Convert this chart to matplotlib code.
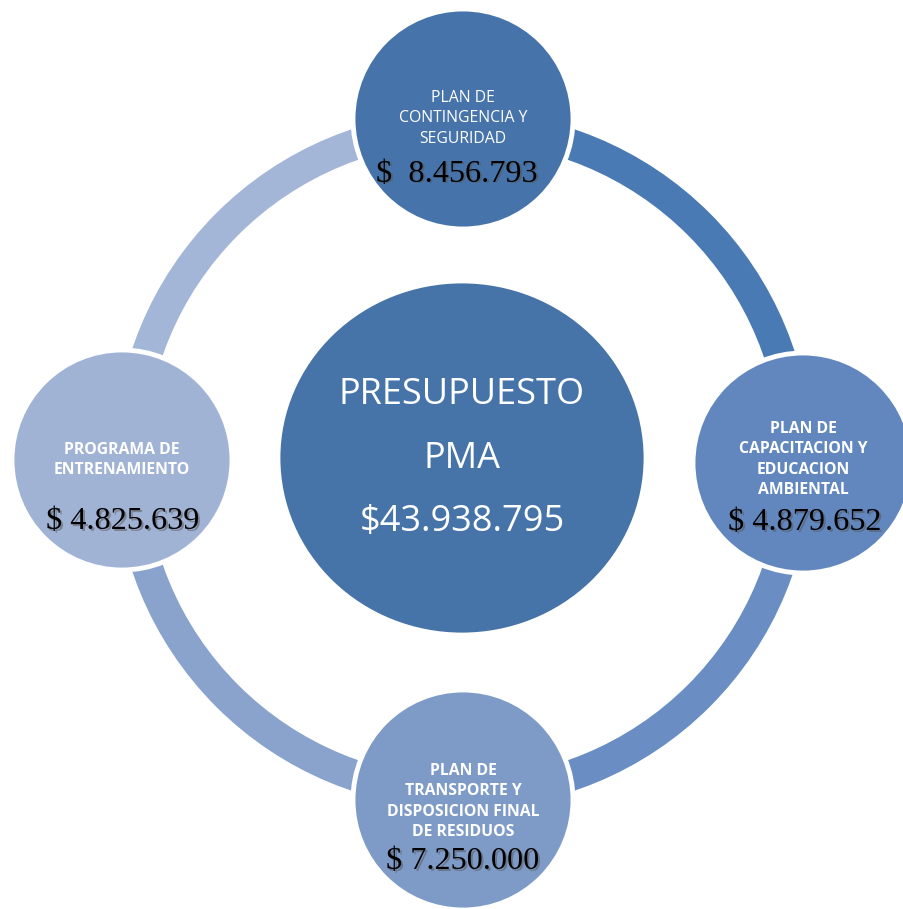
"""
Cycle diagram: PMA budget split in four programs around a central total.
"""
import matplotlib
matplotlib.use("Agg")
from matplotlib import pyplot as plt
from matplotlib.patches import Circle, Ellipse, Wedge

# Data
TOTAL_TITLE = ["PRESUPUESTO", "PMA"]
TOTAL_VALUE = "$43.938.795"
LABELS = [
    ["PLAN DE", "CONTINGENCIA Y", "SEGURIDAD"],
    ["PLAN DE", "CAPACITACION Y", "EDUCACION", "AMBIENTAL"],
    ["PLAN DE", "TRANSPORTE Y", "DISPOSICION FINAL", "DE RESIDUOS"],
    ["PROGRAMA DE", "ENTRENAMIENTO"],
]
VALUES = ["$  8.456.793", "$ 4.879.652", "$ 7.250.000", "$ 4.825.639"]

# Styles
W, H = 904, 909
RING_CENTER = (463, 460)
RING_RADIUS = 349          # outer radius of ring band
RING_WIDTH = 31
NODE_RADIUS = 110
CIRCLE_COLORS = ["#4674AA", "#6187BE", "#7E9BC8", "#A0B3D5"]
ARC_COLORS = ["#4A7AB4", "#6A8EC4", "#89A3CD", "#A3B6D8"]
CENTER_COLOR = "#4673A8"
BOLD = [False, True, True, True]
# node centres (x, y) in pixels, y going down
NODES = [(463, 119), (803, 463), (463, 800), (122, 460)]
# y positions of first label line and of the value, per node
LABEL_TOP = [98, 429, 771, 450]
VALUE_Y = [174, 523, 862, 522]
VALUE_DX = [-6, 2, 0, 1]
LINE_STEP = 20.3
LABEL_SIZE = 11.3
VALUE_SIZE = 23.2

fig = plt.figure(figsize=(W / 100, H / 100), dpi=100)
ax = fig.add_axes([0, 0, 1, 1])
ax.set_xlim(0, W)
ax.set_ylim(H, 0)
ax.set_aspect("equal")
ax.axis("off")

# ring segments, clockwise from top (in a flipped y axis angles run clockwise)
for i, col in enumerate(ARC_COLORS):
    start = -90 + 90 * i
    ax.add_patch(Wedge(RING_CENTER, RING_RADIUS, start, start + 90,
                       width=RING_WIDTH, facecolor=col, edgecolor="none", zorder=1))

# central shape
ax.add_patch(Ellipse((462, 458), 366, 352, facecolor=CENTER_COLOR,
                     edgecolor="white", linewidth=2, zorder=2))
for txt, y in zip(TOTAL_TITLE + [TOTAL_VALUE], [395, 459, 522]):
    ax.text(462, y, txt, color="white", fontsize=26,
            family="Open Sans", ha="center", va="center", zorder=5)

# outer nodes
for i, (cx, cy) in enumerate(NODES):
    ax.add_patch(Circle((cx, cy), NODE_RADIUS, facecolor=CIRCLE_COLORS[i],
                        edgecolor="white", linewidth=3.5, zorder=3))
    for j, line in enumerate(LABELS[i]):
        ax.text(cx, LABEL_TOP[i] + j * LINE_STEP, line, color="white",
                fontsize=LABEL_SIZE, family="Open Sans",
                fontweight="bold" if BOLD[i] else "normal",
                ha="center", va="center", zorder=5)
    # soft shadow then value
    vx = cx + VALUE_DX[i]
    ax.text(vx + 1.5, VALUE_Y[i] + 1.5, VALUES[i], color="#555555", alpha=0.5,
            fontsize=VALUE_SIZE, family="Liberation Serif",
            ha="center", va="center", zorder=5)
    ax.text(vx, VALUE_Y[i], VALUES[i], color="black",
            fontsize=VALUE_SIZE, family="Liberation Serif",
            ha="center", va="center", zorder=6)

fig.savefig("out.png", dpi=100, facecolor="white")
